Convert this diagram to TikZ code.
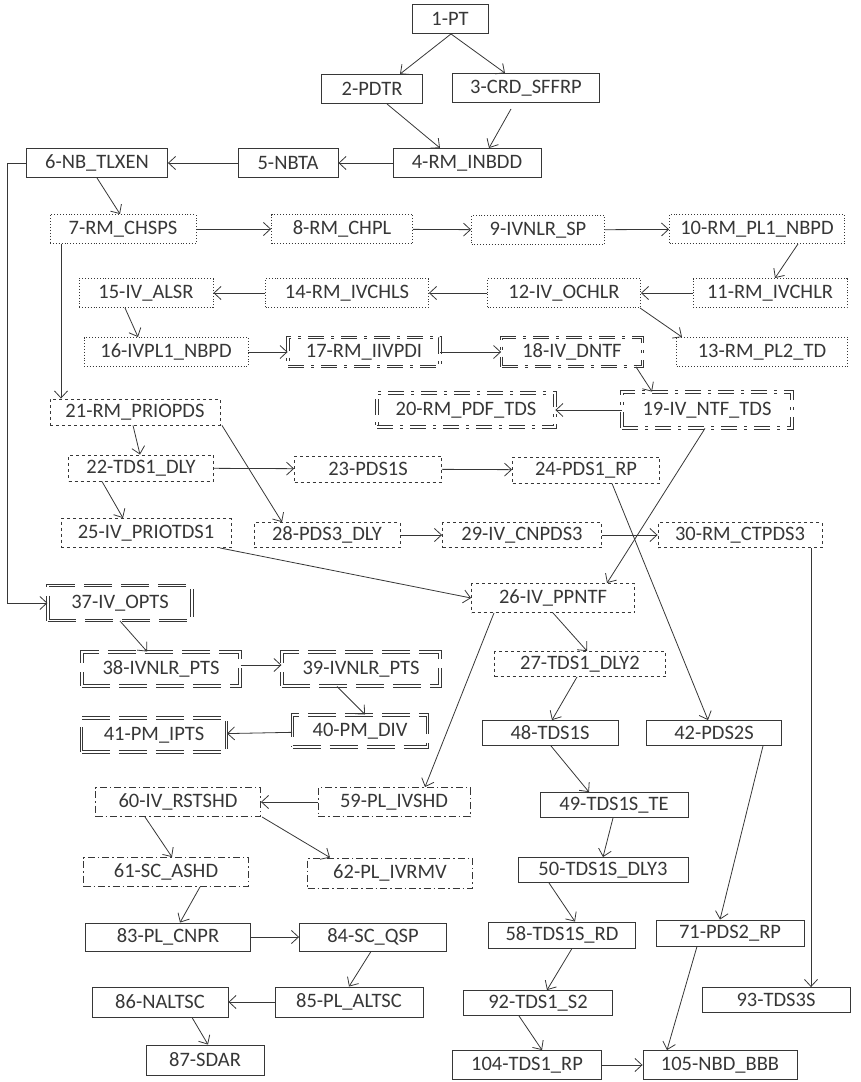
\documentclass[tikz,border=0pt]{standalone}
\usepackage{fontspec}
\setmainfont{Carlito}
\usepackage{tikz}
\usetikzlibrary{arrows.meta}
\definecolor{LineGray}{RGB}{55,55,55}

\begin{document}
\begin{tikzpicture}[x=1pt,y=-1pt,
 task/.style={draw=LineGray, line width=0.9pt, minimum height=29pt, inner sep=1pt, text=LineGray, font=\fontsize{20.5}{24}\selectfont},
 dotbox/.style={task, dotted},
 dashbox/.style={task, dashed},
 dashdotbox/.style={task, dash pattern=on 7pt off 3pt on 1.5pt off 3pt},
 dblbox/.style={task, double=white, double distance=1.6pt, line width=0.8pt, dash pattern=on 16pt off 7pt on 3pt off 7pt},
 brkbox/.style={task, double=white, double distance=1.8pt, line width=1pt, dash pattern=on 28pt off 9pt},
 dep/.style={-{Straight Barb[length=7pt,width=13pt]}, draw=LineGray, line width=0.8pt}
]
\useasboundingbox (0,0) rectangle (860,1082);

\node[task, minimum width=76]  (n1) at (450,19)  {1-PT};
\node[task, minimum width=101] (n2) at (372,89)  {2-PDTR};
\node[task, minimum width=147] (n3) at (526,88)  {3-CRD\_SFFRP};
\node[task, minimum width=148] (n4) at (467,163) {4-RM\_INBDD};
\node[task, minimum width=100] (n5) at (288,163) {5-NBTA};
\node[task, minimum width=141] (n6) at (97,163)  {6-NB\_TLXEN};

\node[dotbox, minimum width=146] (n7)  at (123,229) {7-RM\_CHSPS};
\node[dotbox, minimum width=141] (n8)  at (342,229) {8-RM\_CHPL};
\node[dotbox, minimum width=133] (n9)  at (538,230) {9-IVNLR\_SP};
\node[dotbox, minimum width=175] (n10) at (757,229) {10-RM\_PL1\_NBPD};
\node[dotbox, minimum width=154] (n11) at (770,293) {11-RM\_IVCHLR};
\node[dotbox, minimum width=153] (n12) at (564,293) {12-IV\_OCHLR};
\node[dotbox, minimum width=163] (n14) at (347,293) {14-RM\_IVCHLS};
\node[dotbox, minimum width=134] (n15) at (146,293) {15-IV\_ALSR};
\node[dotbox, minimum width=171] (n13) at (762,352) {13-RM\_PL2\_TD};
\node[dotbox, minimum width=164] (n16) at (166,352) {16-IVPL1\_NBPD};

\node[dblbox, minimum width=152] (n17) at (364,352) {17-RM\_IIVPDI};
\node[dblbox, minimum width=141] (n18) at (572,352) {18-IV\_DNTF};
\node[dblbox, minimum width=178, minimum height=34] (n20) at (466,410) {20-RM\_PDF\_TDS};
\node[dblbox, minimum width=170, minimum height=36] (n19) at (707,410) {19-IV\_NTF\_TDS};

\node[dashbox, minimum width=170, minimum height=26] (n21) at (135,412) {21-RM\_PRIOPDS};
\node[dashbox, minimum width=145, minimum height=26] (n22) at (141,468) {22-TDS1\_DLY};
\node[dashbox, minimum width=147, minimum height=26] (n23) at (368,469) {23-PDS1S};
\node[dashbox, minimum width=147, minimum height=26] (n24) at (586,470) {24-PDS1\_RP};
\node[dashbox, minimum width=170] (n25) at (146,533) {25-IV\_PRIOTDS1};
\node[dashbox, minimum width=146, minimum height=25] (n28) at (327,535) {28-PDS3\_DLY};
\node[dashbox, minimum width=159, minimum height=25] (n29) at (522,535) {29-IV\_CNPDS3};
\node[dashbox, minimum width=164, minimum height=25] (n30) at (740,535) {30-RM\_CTPDS3};
\node[dashbox, minimum width=163] (n26) at (553,598) {26-IV\_PPNTF};
\node[dashbox, minimum width=171, minimum height=25] (n27) at (580,664) {27-TDS1\_DLY2};

\node[brkbox, minimum width=144, minimum height=35] (n37) at (120,603) {37-IV\_OPTS};
\node[brkbox, minimum width=158, minimum height=34] (n38) at (161,669) {38-IVNLR\_PTS};
\node[brkbox, minimum width=158, minimum height=34] (n39) at (361,669) {39-IVNLR\_PTS};
\node[brkbox, minimum width=135, minimum height=32] (n40) at (360,731) {40-PM\_DIV};
\node[brkbox, minimum width=145, minimum height=34] (n41) at (154,735) {41-PM\_IPTS};

\node[task, minimum width=136, minimum height=25] (n48) at (550,733) {48-TDS1S};
\node[task, minimum width=135, minimum height=25] (n42) at (714,733) {42-PDS2S};
\node[task, minimum width=148, minimum height=25] (n49) at (614,805) {49-TDS1S\_TE};
\node[task, minimum width=170, minimum height=25] (n50) at (603,870) {50-TDS1S\_DLY3};

\node[dashdotbox, minimum width=152] (n59) at (394,802) {59-PL\_IVSHD};
\node[dashdotbox, minimum width=165] (n60) at (178,802) {60-IV\_RSTSHD};
\node[dashdotbox, minimum width=165] (n61) at (166,872) {61-SC\_ASHD};
\node[dashdotbox, minimum width=165, minimum height=30] (n62) at (390,873) {62-PL\_IVRMV};

\node[task, minimum width=165, minimum height=28] (n83)  at (168,937)  {83-PL\_CNPR};
\node[task, minimum width=147, minimum height=28] (n84)  at (373,937)  {84-SC\_QSP};
\node[task, minimum width=147, minimum height=26] (n58)  at (562,935)  {58-TDS1S\_RD};
\node[task, minimum width=148, minimum height=26] (n71)  at (730,933)  {71-PDS2\_RP};
\node[task, minimum width=136, minimum height=30] (n86)  at (160,1002) {86-NALTSC};
\node[task, minimum width=148, minimum height=30] (n85)  at (349,1002) {85-PL\_ALTSC};
\node[task, minimum width=149, minimum height=25] (n92)  at (538,1003) {92-TDS1\_S2};
\node[task, minimum width=148, minimum height=25] (n93)  at (776,1000) {93-TDS3S};
\node[task, minimum width=118, minimum height=30] (n87)  at (205,1060) {87-SDAR};
\node[task, minimum width=149, minimum height=29] (n104) at (527,1065) {104-TDS1\_RP};
\node[task, minimum width=154, minimum height=29] (n105) at (720,1065) {105-NBD\_BBB};

% top part
\draw[dep] ([xshift=1]n1.south) -- ([xshift=28]n2.north);
\draw[dep] ([xshift=1]n1.south) -- ([xshift=-21]n3.north);
\draw[dep] ([xshift=15]n2.south) -- ([xshift=-27]n4.north);
\draw[dep] ([xshift=-15,yshift=-6]n3.south) -- ([xshift=22]n4.north);
\draw[dep] (n4) -- (n5);
\draw[dep] (n5) -- (n6);
\draw[dep] (n6.south) -- ([xshift=-3]n7.north);
\draw[dep] (n6.west) -- ++(-19,0) |- (n37.west);

% dotted group
\draw[dep] (n7) -- (n8);
\draw[dep] (n8) -- (n9);
\draw[dep] (n9) -- (n10);
\draw[dep] ([xshift=41]n10.south) -- ([xshift=5]n11.north);
\draw[dep] (n11) -- (n12);
\draw[dep] (n12) -- (n14);
\draw[dep] (n14) -- (n15);
\draw[dep] ([xshift=76]n12.south) -- ([xshift=-80]n13.north);
\draw[dep] ([xshift=-21]n15.south) -- ([xshift=-28]n16.north);
\draw[dep] (n16) -- (n17);
\draw[dep] (n17) -- (n18);
\draw[dep] ([xshift=64]n18.south) -- ([xshift=-55]n19.north);
\draw[dep] (n19) -- (n20);
\draw[dep] ([xshift=-62]n7.south) -- ([xshift=-74]n21.north);

% dashed group
\draw[dep] ([xshift=-2]n21.south) -- ([xshift=-1]n22.north);
\draw[dep] ([xshift=87]n21.south) -- ([xshift=-45]n28.north);
\draw[dep] (n22) -- (n23);
\draw[dep] (n23) -- (n24);
\draw[dep] ([xshift=-39]n22.south) -- ([xshift=-23]n25.north);
\draw[dep] ([xshift=74]n25.south) -- (n26.west);
\draw[dep] (n28) -- (n29);
\draw[dep] (n29) -- (n30);
\draw[dep] ([xshift=-2]n19.south) -- ([xshift=54]n26.north);
\draw[dep] ([xshift=26]n24.south) -- ([xshift=-6]n42.north);
\draw[dep] ([xshift=71]n30.south) -- ([xshift=35]n93.north);
\draw[dep] (n26.south) -- ([xshift=7]n27.north);
\draw[dep] ([xshift=-59]n26.south) -- ([xshift=31]n59.north);
\draw[dep] ([xshift=-3]n27.south) -- ([xshift=2]n48.north);

% right column
\draw[dep] ([xshift=1]n48.south) -- ([xshift=-25]n49.north);
\draw[dep] ([xshift=49]n42.south) -- ([xshift=-10]n71.north);
\draw[dep] ([xshift=-1]n49.south) -- (n50.north);
\draw[dep] ([xshift=-54]n50.south) -- ([xshift=13]n58.north);
\draw[dep] ([xshift=10]n58.south) -- ([xshift=9]n92.north);
\draw[dep] ([xshift=-19]n92.south) -- ([xshift=15]n104.north);
\draw[dep] (n104) -- (n105);
\draw[dep] ([xshift=-33]n71.south) -- ([xshift=-53]n105.north);

% double group
\draw[dep] (n37.south) -- ([xshift=-14]n38.north);
\draw[dep] ([yshift=4]n38.east) -- ([yshift=4]n39.west);
\draw[dep] ([xshift=-24]n39.south) -- ([xshift=5]n40.north);
\draw[dep] (n40) -- (n41);

% dash-dot group and bottom left
\draw[dep] (n59) -- (n60);
\draw[dep] ([xshift=-33]n60.south) -- ([xshift=6]n61.north);
\draw[dep] ([xshift=84]n60.south) -- ([xshift=-60]n62.north);
\draw[dep] ([xshift=34]n61.south) -- ([xshift=12]n83.north);
\draw[dep] (n83) -- (n84);
\draw[dep] ([xshift=-2]n84.south) -- (n85.north);
\draw[dep] (n85) -- (n86);
\draw[dep] ([xshift=32]n86.south) -- ([xshift=3]n87.north);
\end{tikzpicture}
\end{document}
